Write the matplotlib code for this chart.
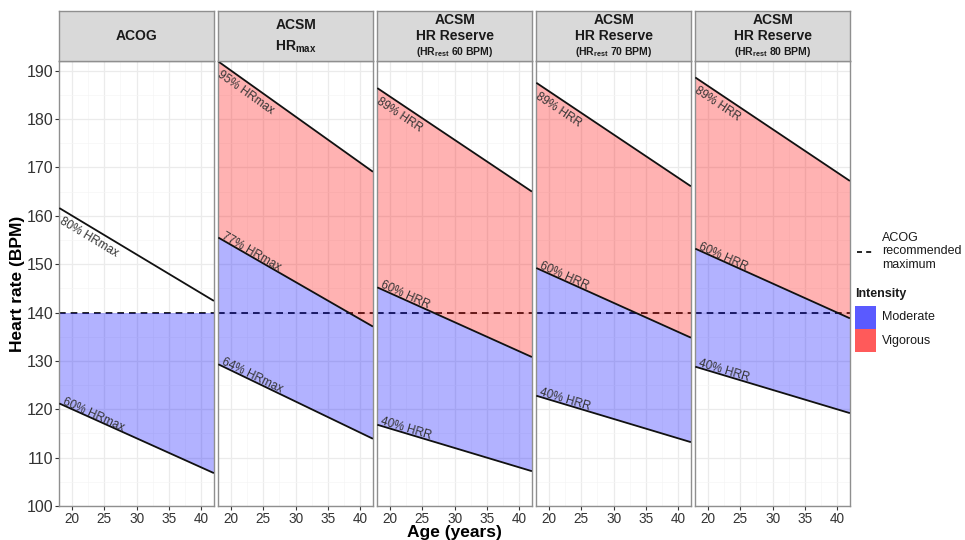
import numpy as np
import matplotlib
matplotlib.use('Agg')
import matplotlib.pyplot as plt
from matplotlib.lines import Line2D
from matplotlib.patches import Rectangle
from matplotlib.ticker import MultipleLocator

plt.rcParams['font.family'] = ['Liberation Sans', 'DejaVu Sans']
plt.rcParams['mathtext.fontset'] = 'custom'
plt.rcParams['mathtext.rm'] = 'Liberation Sans'
plt.rcParams['mathtext.bf'] = 'Liberation Sans:bold'
plt.rcParams['mathtext.it'] = 'Liberation Sans:italic'

# ---------------- data ----------------
ages = [18, 42]
acog_max = 140

acog_80 = [161.6, 142.4]
acog_60 = [121.2, 106.8]
hrmax_95 = [191.9, 169.1]
hrmax_77 = [155.5, 137.1]
hrmax_64 = [129.3, 113.9]
hrr60_89 = [186.4, 165.0]
hrr60_60 = [145.2, 130.8]
hrr60_40 = [116.8, 107.2]
hrr70_89 = [187.5, 166.1]
hrr70_60 = [149.2, 134.8]
hrr70_40 = [122.8, 113.2]
hrr80_89 = [188.6, 167.2]
hrr80_60 = [153.2, 138.8]
hrr80_40 = [128.8, 119.2]

strip_titles = [
    ["ACOG"],
    ["ACSM", r"HR$_{\mathbf{max}}$"],
    ["ACSM", "HR Reserve", r"(HR$_{\mathbf{rest}}$ 60 BPM)"],
    ["ACSM", "HR Reserve", r"(HR$_{\mathbf{rest}}$ 70 BPM)"],
    ["ACSM", "HR Reserve", r"(HR$_{\mathbf{rest}}$ 80 BPM)"],
]

BLUE = '#0000FF'
RED = '#FF0000'

# lines: (values, label, placement)
panels = [
    dict(lines=[(acog_80, "80% HRmax", 'below'), (acog_60, "60% HRmax", 'above')],
         fills=[(acog_60, [acog_max, acog_max], BLUE)]),
    dict(lines=[(hrmax_95, "95% HRmax", 'below'), (hrmax_77, "77% HRmax", 'above'),
                (hrmax_64, "64% HRmax", 'above')],
         fills=[(hrmax_64, hrmax_77, BLUE), (hrmax_77, hrmax_95, RED)]),
    dict(lines=[(hrr60_89, "89% HRR", 'below'), (hrr60_60, "60% HRR", 'above'),
                (hrr60_40, "40% HRR", 'above')],
         fills=[(hrr60_40, hrr60_60, BLUE), (hrr60_60, hrr60_89, RED)]),
    dict(lines=[(hrr70_89, "89% HRR", 'below'), (hrr70_60, "60% HRR", 'above'),
                (hrr70_40, "40% HRR", 'above')],
         fills=[(hrr70_40, hrr70_60, BLUE), (hrr70_60, hrr70_89, RED)]),
    dict(lines=[(hrr80_89, "89% HRR", 'below'), (hrr80_60, "60% HRR", 'above'),
                (hrr80_40, "40% HRR", 'above')],
         fills=[(hrr80_40, hrr80_60, BLUE), (hrr80_60, hrr80_89, RED)]),
]

W, H = 965, 540
fig = plt.figure(figsize=(W / 100, H / 100), dpi=100)

def fx(x):
    return x / W

def fy(y):
    return 1 - y / H

BORDER = '#8F8F8F'
left0, pitch, pw = 59.3, 159.0, 154.6
top, bottom = 61.0, 506.0

for i, p in enumerate(panels):
    x0 = left0 + i * pitch
    ax = fig.add_axes([fx(x0), fy(bottom), pw / W, (bottom - top) / H])
    ax.set_xlim(18, 42)
    ax.set_ylim(100, 192)
    ax.xaxis.set_major_locator(MultipleLocator(5))
    ax.xaxis.set_minor_locator(MultipleLocator(2.5))
    ax.yaxis.set_major_locator(MultipleLocator(10))
    ax.yaxis.set_minor_locator(MultipleLocator(5))
    ax.grid(which='major', color='#EBEBEB', lw=0.9, zorder=0)
    ax.grid(which='minor', color='#F5F5F5', lw=0.5, zorder=0)
    ax.set_axisbelow(True)
    for s in ax.spines.values():
        s.set_color(BORDER)
        s.set_linewidth(1.0)
    ax.tick_params(which='minor', length=0)
    ax.tick_params(axis='x', which='major', length=3, width=0.8, color='#333333',
                   labelsize=9.8, labelcolor='#333333', pad=1.5)
    if i == 0:
        ax.tick_params(axis='y', which='major', length=3, width=0.8, color='#333333',
                       labelsize=11.5, labelcolor='#333333', pad=1.5)
    else:
        ax.tick_params(axis='y', which='major', length=0, labelleft=False)

    # ACOG recommended maximum (below the translucent fills)
    ax.axhline(acog_max, color='black', lw=1.2, ls=(0, (4, 3)), zorder=1)

    for lo, hi, c in p['fills']:
        ax.fill_between(ages, lo, hi, color=c, alpha=0.3, lw=0, zorder=2)

    for vals, lab, pos in p['lines']:
        ax.plot(ages, vals, color='#111111', lw=1.3, zorder=3, solid_capstyle='butt')
        slope = (vals[1] - vals[0]) / (ages[1] - ages[0])
        ang = np.degrees(np.arctan2(vals[1] - vals[0], ages[1] - ages[0]))
        if pos == 'below':
            xl = 18.6
            yl = vals[0] + slope * (xl - ages[0])
            ax.text(xl, yl - 1.0, lab, rotation=ang, rotation_mode='anchor',
                    transform_rotates_text=True, ha='left', va='top',
                    fontsize=8.5, color='#333333', zorder=4)
        else:
            xl = 18.35
            yl = vals[0] + slope * (xl - ages[0])
            ax.text(xl, yl + 0.2, lab, rotation=ang, rotation_mode='anchor',
                    transform_rotates_text=True, ha='left', va='baseline',
                    fontsize=8.5, color='#333333', zorder=4)

    # strip
    sax = fig.add_axes([fx(x0), fy(top), pw / W, 50 / H])
    sax.set_facecolor('#D9D9D9')
    sax.set_xticks([])
    sax.set_yticks([])
    for s in sax.spines.values():
        s.set_color(BORDER)
        s.set_linewidth(1.0)
    t = strip_titles[i]
    if len(t) == 1:
        sax.text(0.5, 0.5, t[0], ha='center', va='center', fontsize=10,
                 fontweight='bold', color='#1A1A1A', transform=sax.transAxes)
    elif len(t) == 2:
        sax.text(0.5, 0.72, t[0], ha='center', va='center', fontsize=10,
                 fontweight='bold', color='#1A1A1A', transform=sax.transAxes)
        sax.text(0.5, 0.28, t[1], ha='center', va='center', fontsize=10,
                 fontweight='bold', color='#1A1A1A', transform=sax.transAxes)
    else:
        sax.text(0.5, 0.81, t[0], ha='center', va='center', fontsize=10,
                 fontweight='bold', color='#1A1A1A', transform=sax.transAxes)
        sax.text(0.5, 0.51, t[1], ha='center', va='center', fontsize=10,
                 fontweight='bold', color='#1A1A1A', transform=sax.transAxes)
        sax.text(0.5, 0.18, t[2], ha='center', va='center', fontsize=7.5,
                 fontweight='bold', color='#1A1A1A', transform=sax.transAxes)

# axis titles
fig.text(fx(18), fy(283.5), "Heart rate (BPM)", rotation=90, ha='center', va='center',
         fontsize=12.5, fontweight='bold')
fig.text(fx(454.5), fy(532), "Age (years)", ha='center', va='center',
         fontsize=12.5, fontweight='bold')

# legend
fig.add_artist(Line2D([fx(857), fx(874)], [fy(251.7), fy(251.7)], color='black',
                      lw=1.2, ls=(0, (3, 2.5))))
fig.text(fx(882), fy(251.5), "ACOG\nrecommended\nmaximum", ha='left', va='center',
         fontsize=9, linespacing=1.12, color='#1A1A1A')
fig.text(fx(855), fy(293.5), "Intensity", ha='left', va='center', fontsize=9,
         fontweight='bold', color='#1A1A1A')
fig.add_artist(Rectangle((fx(855), fy(329)), 21 / W, 23.3 / H, transform=fig.transFigure,
                         facecolor='#5A5AFF', edgecolor='none'))
fig.add_artist(Rectangle((fx(855), fy(352)), 21 / W, 23.3 / H, transform=fig.transFigure,
                         facecolor='#FF5A5A', edgecolor='none'))
fig.text(fx(882), fy(317.5), "Moderate", ha='left', va='center', fontsize=9, color='#1A1A1A')
fig.text(fx(882), fy(341), "Vigorous", ha='left', va='center', fontsize=9, color='#1A1A1A')

fig.savefig('out.png', dpi=100)
